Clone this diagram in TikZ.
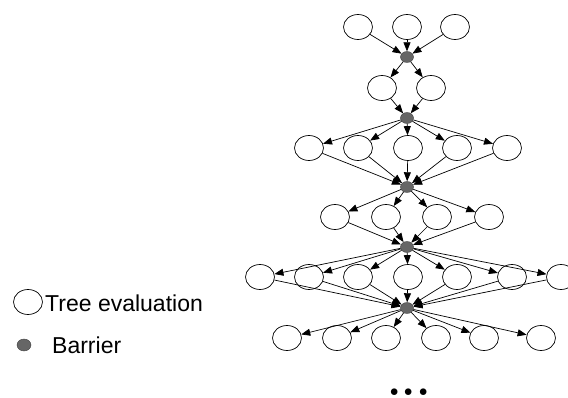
\documentclass[tikz,border=0pt]{standalone}
\usepackage{fontspec}
\setmainfont{Liberation Sans}
\newfontfamily\dotsfont{Latin Modern Roman}
\usetikzlibrary{arrows.meta,shapes.geometric}

% x positions of the evaluations on each level, then the level height
\def\levels{{358,407,455}/27/1, {382,431}/88/2, {309,358,408,457,507}/148/3, {335,386,437,489}/217/4, {260,309,358,408,457,512,561}/277/5, {287,337,386,436,484,541}/338/6}
\def\barriers{{(407,57)/b1}, {(407,118)/b2}, {(407,187)/b3}, {(407,247)/b4}, {(407,308)/b5}}
\colorlet{barrier fill}{black!60}
\tikzstyle{task}=[ellipse,draw,fill=white,line width=0.7pt,minimum width=29pt,minimum height=25pt,inner sep=0pt]
\tikzstyle{barrier}=[ellipse,draw=black!75,fill=barrier fill,minimum width=13pt,minimum height=11pt,inner sep=0pt]
\tikzstyle{edge} = [draw, line width=0.7pt, -{Triangle[length=9pt,width=7pt]}]
\tikzstyle{legend}=[anchor=base west,inner sep=0pt,font=\fontsize{23}{27}\selectfont]

\begin{document}
\begin{tikzpicture}[x=1pt,y=-1pt]
  \useasboundingbox (0,0) rectangle (568,398);

  % The barriers
  \foreach \pos/\name in \barriers
    \node[barrier] (\name) at \pos {};

  % The tree evaluations, level by level
  \foreach \xs/\y/\l in \levels
    \foreach \x [count=\i] in \xs
      \node[task] (r\l-\i) at (\x,\y) {};

  % Each level waits on the barrier below it
  \foreach \i in {1,2,3}
    \path[edge] (r1-\i) -- (b1);
  \foreach \i in {1,2} {
    \path[edge] (b1) -- (r2-\i);
    \path[edge] (r2-\i) -- (b2);
  }
  \foreach \i in {1,...,5} {
    \path[edge] (b2) -- (r3-\i);
    \path[edge] (r3-\i) -- (b3);
  }
  \foreach \i in {1,...,4} {
    \path[edge] (b3) -- (r4-\i);
    \path[edge] (r4-\i) -- (b4);
  }
  \foreach \i in {1,...,7} {
    \path[edge] (b4) -- (r5-\i);
    \path[edge] (r5-\i) -- (b5);
  }
  \foreach \i in {1,...,6}
    \path[edge] (b5) -- (r6-\i);

  \node[anchor=base,inner sep=0pt,text depth=0pt,font=\dotsfont\fontsize{46}{50}\selectfont\bfseries] (more) at (409,395) {...};

  % Legend
  \node[task] (key-task) at (28,302) {};
  \node[legend] (key-task-text) at (45,312) {Tree evaluation};
  \node[barrier,minimum width=14pt,minimum height=12pt] (key-barrier) at (24,345) {};
  \node[legend] (key-barrier-text) at (52,353) {Barrier};
\end{tikzpicture}
\end{document}
